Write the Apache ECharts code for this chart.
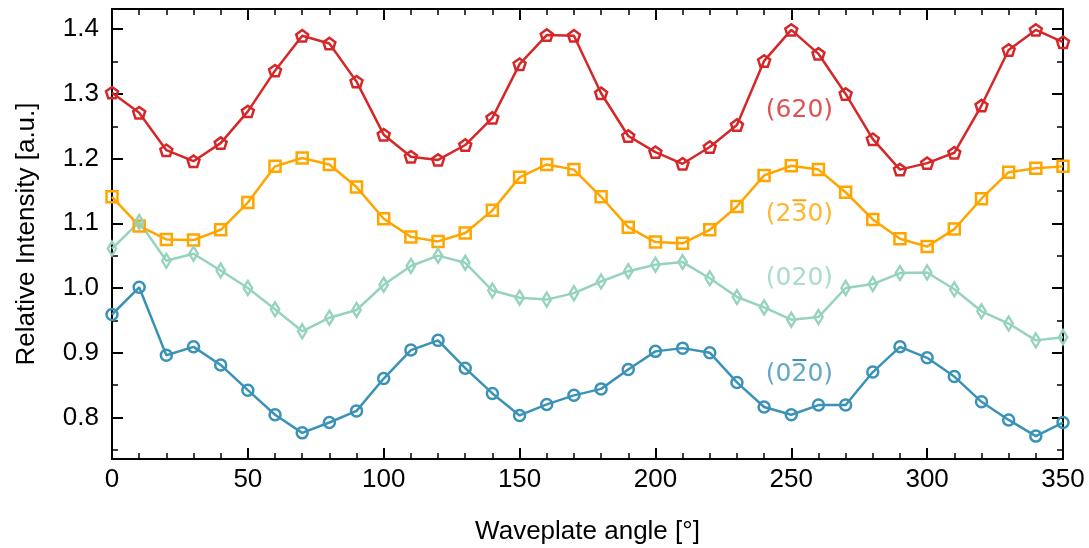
<!DOCTYPE html>
<html>
<head>
<meta charset="utf-8">
<script src="https://cdn.jsdelivr.net/npm/echarts@6/dist/echarts.min.js"></script>
<style>
html,body{margin:0;padding:0;background:#fff;}
#chart{width:1089px;height:548px;}
</style>
</head>
<body>
<div id="chart"></div>
<script>
const angles = [0,10,20,30,40,50,60,70,80,90,100,110,120,130,140,150,160,170,180,190,200,210,220,230,240,250,260,270,280,290,300,310,320,330,340,350];

const s620 = [1.302,1.271,1.213,1.196,1.224,1.273,1.336,1.390,1.378,1.319,1.237,1.203,1.198,1.221,1.263,1.346,1.391,1.390,1.301,1.235,1.210,1.192,1.218,1.252,1.351,1.399,1.362,1.300,1.230,1.183,1.193,1.209,1.282,1.368,1.399,1.380];
const s230 = [1.141,1.096,1.075,1.074,1.090,1.132,1.188,1.201,1.191,1.156,1.107,1.079,1.072,1.085,1.120,1.171,1.191,1.183,1.141,1.094,1.071,1.069,1.090,1.126,1.174,1.189,1.183,1.148,1.106,1.076,1.064,1.091,1.138,1.179,1.185,1.188];
const s020 = [1.061,1.102,1.042,1.053,1.027,1.000,0.967,0.933,0.954,0.966,1.005,1.034,1.050,1.039,0.996,0.985,0.982,0.992,1.010,1.026,1.036,1.040,1.015,0.986,0.970,0.951,0.955,1.000,1.006,1.023,1.024,0.998,0.964,0.945,0.919,0.924];
const s0m20 = [0.959,1.001,0.896,0.909,0.881,0.842,0.804,0.776,0.792,0.810,0.860,0.904,0.919,0.876,0.837,0.803,0.820,0.834,0.844,0.874,0.902,0.907,0.900,0.854,0.816,0.804,0.819,0.819,0.870,0.909,0.892,0.863,0.824,0.796,0.771,0.792];

// Miller-index labels: plain text plus index (in the string) of the digit carrying a bar (-1 = none)
const labelTexts = ['(620)', '(230)', '(020)', '(020)'];
const barredDigit = [-1, 2, -1, 2];
const labelAngle = 253;
const labelValues = [1.274, 1.114, 1.015, 0.867];

const xTitle = 'Waveplate angle [°]';
const yTitle = 'Relative Intensity [a.u.]';

const colors = ['#d62728', '#ffa500', '#96d3be', '#3a93b7'];
const pentagon = 'path://M0,-1 L0.951,-0.309 L0.588,0.809 L-0.588,0.809 L-0.951,-0.309 Z';
const symbols = [pentagon, 'rect', 'diamond', 'circle'];
const symbolSizes = [12, 11, [8.5, 14], 11];
const values = [s620, s230, s020, s0m20];

const FONT = 'Liberation Sans, Arial, sans-serif';
const LABEL_FONT = 'DejaVu Sans';
const LABEL_SIZE = 25;
const axisCommon = {
  axisLine: {show: true, onZero: false, lineStyle: {color: '#000', width: 2}},
  axisTick: {show: true, inside: true, length: 11, lineStyle: {color: '#000', width: 2}},
  splitLine: {show: false}
};

const chart = echarts.init(document.getElementById('chart'));

const lineSeries = values.map((vals, i) => ({
  type: 'line',
  data: angles.map((a, j) => [a, vals[j]]),
  symbol: symbols[i],
  symbolSize: symbolSizes[i],
  symbolKeepAspect: true,
  showAllSymbol: true,
  lineStyle: {color: colors[i], width: 2.5},
  itemStyle: {color: 'rgba(255,255,255,0)', borderColor: colors[i], borderWidth: 2.5},
  emphasis: {disabled: true},
  animation: false,
  z: 2
}));

const labelSeries = {
  type: 'scatter',
  symbolSize: 0,
  silent: true,
  animation: false,
  data: labelValues.map((v, i) => ({
    value: [labelAngle, v],
    label: {color: colors[i]}
  })),
  label: {
    show: true,
    position: 'inside',
    fontFamily: LABEL_FONT,
    fontSize: LABEL_SIZE,
    formatter: p => labelTexts[p.dataIndex]
  },
  z: 3
};

const yMin = 0.7356, yMax = 1.4313;
const yFmt = v => (Math.abs(v * 10 - Math.round(v * 10)) < 1e-6 ? v.toFixed(1) : '');

chart.setOption({
  backgroundColor: '#fff',
  animation: false,
  grid: {left: 112, right: 26, top: 9, bottom: 89, containLabel: false, outerBoundsMode: 'none'},
  xAxis: [
    Object.assign({}, axisCommon, {
      type: 'value', position: 'bottom', min: 0, max: 350, interval: 50,
      minorTick: {show: true, splitNumber: 5, length: 6, lineStyle: {color: '#000', width: 1.5}},
      axisLabel: {fontFamily: FONT, fontSize: 26, color: '#000', margin: 8},
      name: xTitle, nameLocation: 'middle', nameGap: 60,
      nameTextStyle: {fontFamily: FONT, fontSize: 26, color: '#000'}
    }),
    Object.assign({}, axisCommon, {
      type: 'value', position: 'top', min: 0, max: 350, interval: 50,
      minorTick: {show: true, splitNumber: 5, length: 6, lineStyle: {color: '#000', width: 1.5}},
      axisLabel: {show: false}
    })
  ],
  yAxis: [
    Object.assign({}, axisCommon, {
      type: 'value', position: 'left', min: yMin, max: yMax, splitNumber: 7,
      minorTick: {show: true, splitNumber: 2, length: 6, lineStyle: {color: '#000', width: 1.5}},
      axisLabel: {fontFamily: FONT, fontSize: 26, color: '#000', margin: 13, formatter: yFmt},
      name: yTitle, nameLocation: 'middle', nameGap: 72,
      nameTextStyle: {fontFamily: FONT, fontSize: 26, color: '#000'}
    }),
    Object.assign({}, axisCommon, {
      type: 'value', position: 'right', min: yMin, max: yMax, splitNumber: 7,
      minorTick: {show: true, splitNumber: 2, length: 6, lineStyle: {color: '#000', width: 1.5}},
      axisLabel: {show: false}
    })
  ],
  series: lineSeries.concat([labelSeries])
});

// Overbars for negative Miller indices, positioned from the label anchor via the axis scales
const ctx = document.createElement('canvas').getContext('2d');
ctx.font = LABEL_SIZE + 'px ' + LABEL_FONT;
const bars = [];
labelTexts.forEach((t, i) => {
  const k = barredDigit[i];
  if (k < 0) return;
  const p = chart.convertToPixel({gridIndex: 0}, [labelAngle, labelValues[i]]);
  const W = ctx.measureText(t).width;
  const x0 = p[0] - W / 2 + ctx.measureText(t.slice(0, k)).width;
  const dw = ctx.measureText(t[k]).width;
  const y = p[1] - 14;
  bars.push({
    type: 'line', silent: true, z: 10,
    shape: {x1: x0 + 1, y1: y, x2: x0 + dw - 1, y2: y},
    style: {stroke: colors[i], lineWidth: 2}
  });
});
chart.setOption({graphic: bars});
</script>
</body>
</html>
